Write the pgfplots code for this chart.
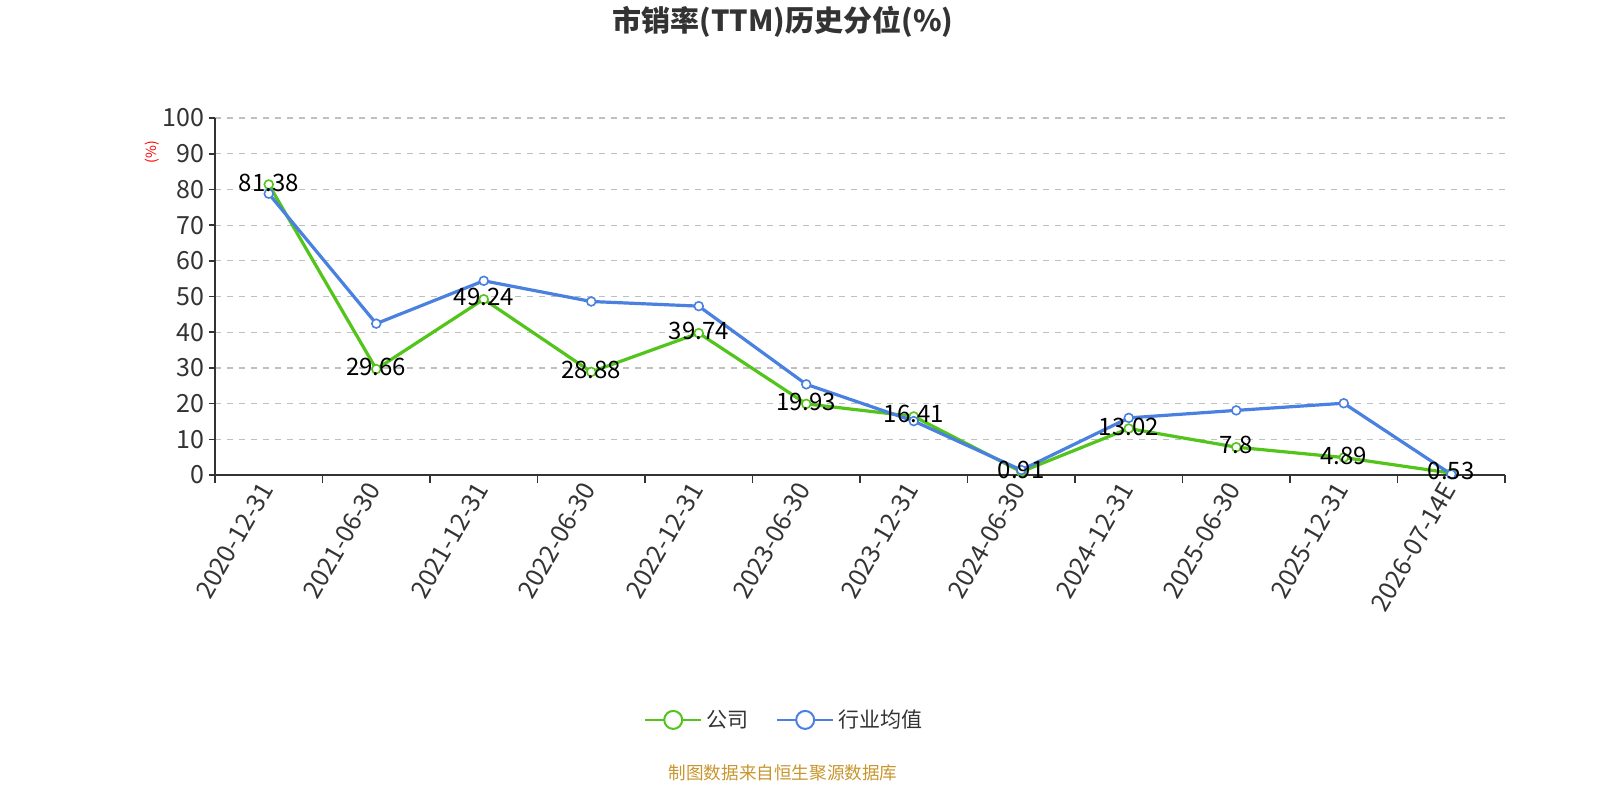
\documentclass[border=0pt]{standalone}
\usepackage{fontspec}
\setmainfont{Noto Sans CJK SC}
\usepackage{pgfplots}
\pgfplotsset{compat=1.18}
\definecolor{cgreen}{HTML}{52C41A}
\definecolor{cblue}{HTML}{4A80E0}
\definecolor{txt}{HTML}{333333}
\definecolor{src}{HTML}{C8962E}
\begin{document}
\begin{tikzpicture}
\path[use as bounding box] (-107.5bp,-162.5bp) rectangle (692.5bp,237.5bp);
\begin{axis}[
  at={(0,0)}, anchor=south west, scale only axis,
  width=645bp, height=178.5bp,
  xmin=-0.5, xmax=11.5, ymin=0, ymax=100,
  axis x line*=bottom, axis y line*=left,
  axis line style={draw=txt, line width=0.8bp},
  xtick={0,...,11},
  xticklabels={2020-12-31,2021-06-30,2021-12-31,2022-06-30,2022-12-31,2023-06-30,2023-12-31,2024-06-30,2024-12-31,2025-06-30,2025-12-31,2026-07-14E},
  x tick label style={rotate=60, anchor=east, font=\fontsize{12.5bp}{14bp}\selectfont, text=txt, inner sep=2bp},
  minor xtick={-0.5,0.5,...,11.5},
  major x tick style={draw=none},
  minor x tick style={draw=txt, line width=0.8bp},
  y tick style={draw=txt, line width=0.8bp},
  tick align=outside, major tick length=3bp, minor tick length=4bp,
  ytick={0,10,...,100},
  y tick label style={font=\fontsize{12.5bp}{14bp}\selectfont, text=txt, inner sep=2bp},
  ymajorgrids, grid style={dash pattern=on 3bp off 3bp, color=black!25, line width=0.6bp},
  /pgf/number format/assume math mode=true,
  clip=false,
  legend style={at={(0.442,-0.686)}, anchor=center, draw=none, fill=none,
    legend columns=2, font=\fontsize{10.5bp}{12bp}\selectfont, text=txt,
    /tikz/every even column/.append style={column sep=12bp}},
  legend image code/.code={\draw[#1, line width=1bp] (0bp,0bp) -- (28bp,0bp);
     \draw[#1, line width=1bp, fill=white] (14bp,0bp) circle (4.5bp);},
]
\addplot[color=cgreen, line width=1.6bp, mark=*, mark size=2.2bp, mark options={fill=white, line width=0.8bp}]
 table {
x y
0 81.38
1 29.66
2 49.24
3 28.88
4 39.74
5 19.93
6 16.41
7 0.91
8 13.02
9 7.8
10 4.89
11 0.53
};
\addlegendentry{公司}
\addplot[color=cblue, line width=1.6bp, mark=*, mark size=2.2bp, mark options={fill=white, line width=0.8bp}]
 table {
x y
0 78.8
1 42.4
2 54.4
3 48.6
4 47.3
5 25.4
6 15.1
7 1.4
8 16.0
9 18.1
10 20.1
11 0.2
};
\addlegendentry{行业均值}
\addplot[draw=none, forget plot, nodes near coords, point meta=explicit symbolic,
  every node near coord/.append style={anchor=center, yshift=1bp, inner sep=0pt, font=\fontsize{12bp}{13bp}\selectfont, text=black}]
 table[meta=lab] {
x y lab
0 81.38 81.38
1 29.66 29.66
2 49.24 49.24
3 28.88 28.88
4 39.74 39.74
5 19.93 19.93
6 16.41 16.41
7 0.91 0.91
8 13.02 13.02
9 7.8 7.8
10 4.89 4.89
11 0.53 0.53
};
\end{axis}
\node[font=\bfseries\fontsize{14.5bp}{16bp}\selectfont, text=txt] at (284bp,226.5bp) {市销率(TTM)历史分位(\%)};
\node[rotate=90, text=red, font=\fontsize{7bp}{8bp}\selectfont] at (-31.5bp,161.5bp) {(\%)};
\node[text=src, font=\fontsize{8.8bp}{10bp}\selectfont] at (284bp,-149bp) {制图数据来自恒生聚源数据库};
\end{tikzpicture}
\end{document}
